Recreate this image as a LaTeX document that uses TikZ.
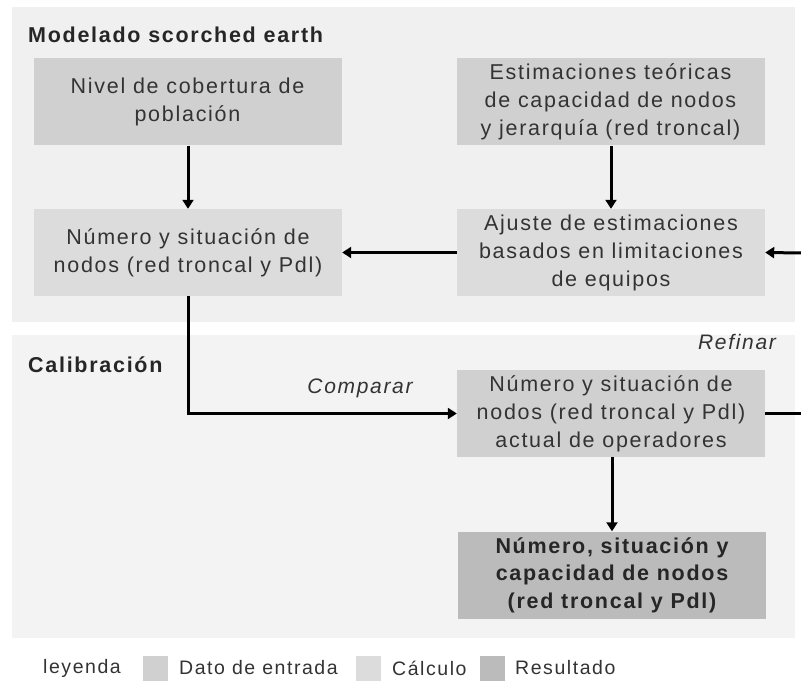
\documentclass[tikz,border=0pt]{standalone}
\usepackage{fontspec}
\setmainfont{Liberation Sans}[LetterSpace=8]
\usetikzlibrary{arrows.meta}
\definecolor{bandA}{HTML}{F0F0F0}
\definecolor{bandB}{HTML}{F3F3F3}
\definecolor{inputc}{HTML}{D0D0D0}
\definecolor{calcc}{HTML}{DCDCDC}
\definecolor{resc}{HTML}{BBBBBB}
\definecolor{txt}{HTML}{333333}
\tikzset{
  box/.style={inner sep=0pt, minimum width=308pt, minimum height=87pt, align=center,
    text=txt, font=\fontsize{21.5}{28}\selectfont},
  inbox/.style={box, fill=inputc},
  calcbox/.style={box, fill=calcc},
  resbox/.style={box, fill=resc, font=\fontsize{21.5}{27.5}\selectfont\bfseries, text=black!85},
  arr/.style={line width=3pt, -{Triangle[width=11pt,length=9pt]}},
  plain/.style={line width=3pt},
  title/.style={anchor=west, inner sep=0pt, font=\fontsize{21.5}{24}\selectfont\bfseries, text=black!85},
  lab/.style={inner sep=0pt, font=\fontsize{21}{24}\selectfont\itshape, text=txt},
  leg/.style={anchor=west, inner sep=0pt, font=\fontsize{19.5}{22}\selectfont, text=txt},
  legsq/.style={inner sep=0pt, minimum width=25pt, minimum height=25pt}
}
\begin{document}
\begin{tikzpicture}[x=1pt, y=-1pt]
\useasboundingbox (0,0) rectangle (801,684);
\fill[white] (0,0) rectangle (801,684);
% bands
\fill[bandA] (12,7) rectangle (795,322);
\fill[bandB] (12,335) rectangle (795,638);
\node[title] (t1) at (28,35) {Modelado scorched earth};
\node[title] (t2) at (28,365) {Calibración};
% boxes
\node[inbox]   (A) at (187.5,102) {Nivel de cobertura de\\población};
\node[calcbox] (B) at (188,252.5) {Número y situación de\\nodos (red troncal y Pdl)};
\node[inbox]   (C) at (610.5,102) {Estimaciones teóricas\\de capacidad de nodos\\y jerarquía (red troncal)};
\node[calcbox] (D) at (611,252.5) {Ajuste de estimaciones\\basados en limitaciones\\de equipos};
\node[inbox]   (E) at (611,413.5) {Número y situación de\\nodos (red troncal y Pdl)\\actual de operadores};
\node[resbox]  (F) at (612,575) {Número, situación y\\capacidad de nodos\\(red troncal y Pdl)};
% connectors
\coordinate (rin) at (801,253);
\coordinate (rout) at (801,413.5);
\draw[arr] (A.south -| 188,0) -- (B.north -| 188,0);
\draw[arr] (C.south -| 611,0) -- (D.north -| 611,0);
\draw[arr] (D.west) -- (B.east);
\draw[arr] (rin) -- (D.east);
\draw[arr] (B.south -| 188,0) |- (E.west);
\draw[plain] (E.east) -- (rout);
\draw[arr] (E.south -| 612,0) -- (F.north -| 612,0);
% labels
\node[lab] (cmp) at (360,388) {Comparar};
\node[lab] (ref) at (737,342) {Refinar};
% legend
\node[leg] (l0) at (43,668) {leyenda};
\node[legsq, fill=inputc] (s1) at (155,668) {};
\node[leg] (l1) at (179,668) {Dato de entrada};
\node[legsq, fill=calcc] (s2) at (368,668) {};
\node[leg] (l2) at (392,668) {Cálculo};
\node[legsq, fill=resc] (s3) at (492,668) {};
\node[leg] (l3) at (515,668) {Resultado};
\end{tikzpicture}
\end{document}
